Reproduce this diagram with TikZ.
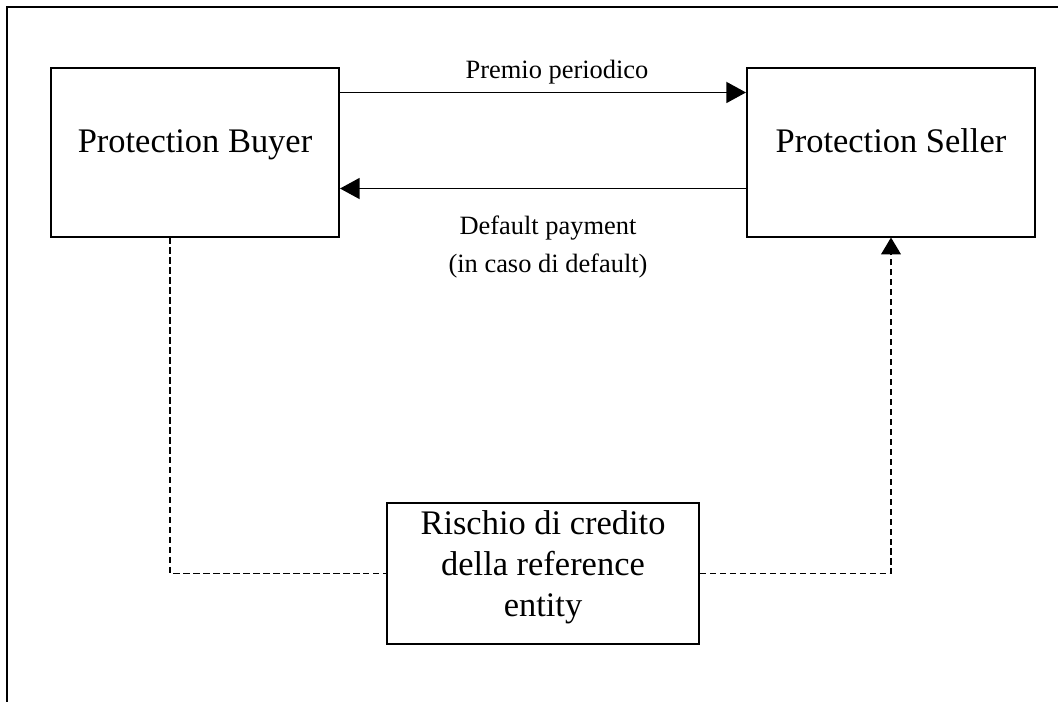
\documentclass[tikz,border=0pt]{standalone}
\usepackage{fontspec}
\setmainfont{Liberation Serif}
\usetikzlibrary{positioning,arrows.meta,calc}

\begin{document}
\begin{tikzpicture}[x=.025cm,y=-.025cm,
  party/.style={draw,line width=1.4pt,minimum width=7.2cm,minimum height=4.2cm,font=\fontsize{24.5}{29}\selectfont,text height=12pt,text depth=12pt},
  riskbox/.style={draw,line width=1.4pt,minimum width=7.8cm,minimum height=3.525cm,align=center,font=\fontsize{24.5}{29.2}\selectfont,text depth=14.5pt},
  note/.style={font=\fontsize{18.8}{22}\selectfont},
  flow/.style={line width=1.1pt,-{Triangle[length=14pt,width=15pt]}},
  link/.style={line width=1.2pt,dash pattern=on 4.5pt off 2.6pt}]
\useasboundingbox (0,0) rectangle (1058,702);
\draw[line width=1.5pt] (7,702) -- (7,7) -- (1058,7);
\node[party] (buyer) at (195,152.5){Protection Buyer};
\node[party] (seller) at (891,152.5){Protection Seller};
\node[riskbox] (risk) at (543,573.5){Rischio di credito\\della reference\\entity};
\draw[flow] ([yshift=1.5cm]buyer.east) -- ([yshift=1.5cm]seller.west);
\draw[flow] ([yshift=-.9cm]seller.west) -- ([yshift=-.9cm]buyer.east);
\node[note] (premio) at (557,72){Premio periodico};
\node[note] (dpay) at (548,228){Default payment};
\node[note] (dcase) at (548,266){(in caso di default)};
\draw[link] ([xshift=-.625cm]buyer.south) |- (risk.west);
\draw[link,-{Triangle[length=12pt,width=14pt]}] (risk.east) -| (seller.south);
\end{tikzpicture}
\end{document}
